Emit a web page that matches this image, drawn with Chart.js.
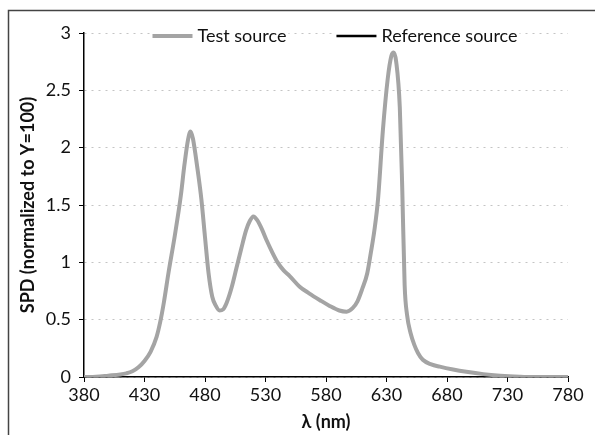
<!DOCTYPE html>
<html>
<head>
<meta charset="utf-8">
<script src="https://cdn.jsdelivr.net/npm/chart.js@4.4.1/dist/chart.umd.min.js"></script>
<style>
  html, body { margin: 0; padding: 0; background: #fff; }
  #wrap { position: relative; width: 595px; height: 435px; }
</style>
</head>
<body>
<div id="wrap"><canvas id="c" width="595" height="435"></canvas></div>
<script>
// Wavelengths (nm)
const wavelengths = [380, 390, 400, 410, 415, 420, 425, 430, 435, 440, 443, 446, 450, 455, 460, 463, 466, 468, 470, 472, 474, 477, 480, 483, 486, 489, 492, 495, 498, 502, 506, 510, 514, 517, 520, 523, 527, 531, 535, 540, 545, 550, 558, 566, 575, 583, 591, 597, 602, 606, 610, 614, 617, 620, 623, 627, 631, 634, 636, 638, 641, 643, 645, 647, 650, 653, 656, 660, 667, 674, 685, 696, 710, 724, 740, 750, 760, 770, 780];
// Test source SPD (normalized to Y=100)
const testSource = [0.0, 0.003, 0.012, 0.022, 0.032, 0.05, 0.085, 0.14, 0.22, 0.35, 0.48, 0.65, 0.92, 1.23, 1.58, 1.85, 2.07, 2.14, 2.08, 1.95, 1.80, 1.55, 1.22, 0.90, 0.70, 0.62, 0.58, 0.59, 0.65, 0.78, 0.95, 1.12, 1.28, 1.36, 1.40, 1.37, 1.29, 1.19, 1.10, 1.00, 0.93, 0.88, 0.79, 0.73, 0.67, 0.62, 0.58, 0.57, 0.60, 0.66, 0.77, 0.90, 1.08, 1.28, 1.55, 2.15, 2.60, 2.80, 2.83, 2.75, 2.35, 1.65, 0.80, 0.54, 0.38, 0.28, 0.21, 0.15, 0.11, 0.09, 0.065, 0.045, 0.025, 0.012, 0.003, 0.0, 0.0, 0.0, 0.0];
// Reference source: not visible separately in the picture (legend entry only)
const referenceSource = [];
const seriesLabels = ['Test source', 'Reference source'];
const xTicks = [380, 430, 480, 530, 580, 630, 680, 730, 780];
const yTicks = [0, 0.5, 1, 1.5, 2, 2.5, 3];

const FONT = 'Lato, "Open Sans", "DejaVu Sans", sans-serif';

const framePlugin = {
  id: 'frame',
  beforeDraw(chart) {
    const ctx = chart.ctx;
    ctx.save();
    ctx.fillStyle = '#fff';
    ctx.fillRect(0, 0, chart.width, chart.height);
    ctx.strokeStyle = '#444';
    ctx.lineWidth = 1.5;
    ctx.beginPath();
    ctx.moveTo(8.5, chart.height);
    ctx.lineTo(8.5, 10.5);
    ctx.lineTo(chart.width, 10.5);
    ctx.stroke();
    ctx.restore();
  }
};

// Legend drawn inside the top of the plot area, in one row
const innerLegend = {
  id: 'innerLegend',
  afterDatasetsDraw(chart) {
    const ctx = chart.ctx;
    const area = chart.chartArea;
    const lineW = 40, gapT = 5, gapItem = 50;
    ctx.save();
    ctx.font = '18px ' + FONT;
    const items = chart.data.datasets.map(ds => ({
      text: ds.label, color: ds.borderColor, width: ds.borderWidth,
      tw: ctx.measureText(ds.label).width
    }));
    let total = 0;
    items.forEach((it, i) => { total += lineW + gapT + it.tw + (i ? gapItem : 0); });
    let x = (area.left + area.right) / 2 + 9 - total / 2;
    const y = area.top + 3;
    items.forEach((it, i) => {
      if (i) x += gapItem;
      ctx.fillStyle = '#fff';
      ctx.fillRect(x - 2, y - 11, lineW + gapT + it.tw + 4, 22);
      ctx.strokeStyle = it.color;
      ctx.lineWidth = it.width;
      ctx.beginPath();
      ctx.moveTo(x, y);
      ctx.lineTo(x + lineW, y);
      ctx.stroke();
      ctx.fillStyle = '#111';
      ctx.textBaseline = 'middle';
      ctx.textAlign = 'left';
      ctx.fillText(it.text, x + lineW + gapT, y);
      x += lineW + gapT + it.tw;
    });
    ctx.restore();
  }
};

new Chart(document.getElementById('c'), {
  type: 'line',
  data: {
    datasets: [
      {
        label: seriesLabels[0],
        data: wavelengths.map((w, i) => ({ x: w, y: testSource[i] })),
        borderColor: '#a4a4a4',
        backgroundColor: '#a4a4a4',
        borderWidth: 4,
        pointRadius: 0,
        cubicInterpolationMode: 'monotone'
      },
      {
        label: seriesLabels[1],
        data: referenceSource,
        borderColor: '#000',
        backgroundColor: '#000',
        borderWidth: 2.5,
        pointRadius: 0
      }
    ]
  },
  options: {
    responsive: false,
    animation: false,
    devicePixelRatio: 1,
    layout: { padding: { left: 15, top: 33, right: 27, bottom: 0 } },
    plugins: {
      legend: { display: false },
      tooltip: { enabled: false }
    },
    scales: {
      x: {
        type: 'linear',
        min: 380,
        max: 780,
        afterBuildTicks(scale) { scale.ticks = xTicks.map(v => ({ value: v })); },
        afterFit(scale) { scale.height = 58; },
        grid: { drawOnChartArea: false, drawTicks: true, tickLength: 5, tickColor: '#000', tickWidth: 1 },
        border: { color: '#000', width: 1.5 },
        ticks: { color: '#111', font: { family: FONT, size: 18 }, padding: 2, maxRotation: 0, callback: v => String(v) },
        title: { display: true, text: 'λ (nm)', color: '#111', font: { family: FONT, size: 18, weight: 'bold' }, padding: { top: 0, bottom: 2 } }
      },
      y: {
        min: 0,
        max: 3,
        afterBuildTicks(scale) { scale.ticks = yTicks.map(v => ({ value: v })); },
        afterFit(scale) { scale.width = 69; },
        grid: { color: '#c4c4c4', lineWidth: 1, tickLength: 5, tickColor: '#000', tickBorderDash: [], tickWidth: 1 },
        border: { color: '#000', width: 1.5, dash: [2, 5] },
        ticks: { color: '#111', font: { family: FONT, size: 18 }, padding: 8, callback: v => String(v) },
        title: { display: true, text: 'SPD (normalized to Y=100)', color: '#111', font: { family: FONT, size: 18, weight: 'bold' }, padding: { top: 2, bottom: 0 } }
      }
    }
  },
  plugins: [framePlugin, innerLegend]
});
</script>
</body>
</html>
